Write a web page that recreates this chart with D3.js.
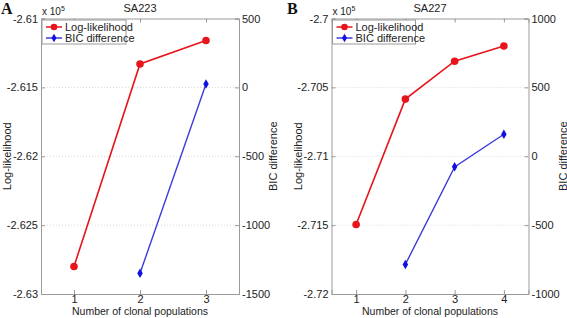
<!DOCTYPE html>
<html>
<head>
<meta charset="utf-8">
<script src="https://cdn.jsdelivr.net/npm/d3@7"></script>
<style>
  body { margin: 0; background: #fff; }
  text { font-family: "Liberation Sans", Arial, sans-serif; }
</style>
</head>
<body>
<div id="chart"></div>
<script>
// Panel A (SA223)
const popsA = [1, 2, 3];
const llA = [-262800, -261330, -261160];
const bicPopsA = [2, 3];
const bicA = [-1350, 25];
const leftTicksA = [-2.63, -2.625, -2.62, -2.615, -2.61];
const rightTicksA = [-1500, -1000, -500, 0, 500];

// Panel B (SA227)
const popsB = [1, 2, 3, 4];
const llB = [-271495, -270585, -270310, -270200];
const bicPopsB = [2, 3, 4];
const bicB = [-785, -77, 160];
const leftTicksB = [-2.72, -2.715, -2.71, -2.705, -2.7];
const rightTicksB = [-1000, -500, 0, 500, 1000];

const W = 567, H = 318;
const svg = d3.select('#chart').append('svg')
    .attr('width', W)
    .attr('height', H);

const red = '#e8141c';
const blue = '#3c3cdc';
const axisCol = '#9a9a9a';

function panel(opt) {
    const g = svg.append('g');
    const x = d3.scaleLinear()
        .domain([0.5, opt.pops.length + 0.5])
        .range([opt.left, opt.right]);
    const yL = d3.scaleLinear()
        .domain([opt.leftTicks[0], opt.leftTicks[opt.leftTicks.length - 1]])
        .range([opt.bottom, opt.top]);
    const yR = d3.scaleLinear()
        .domain([opt.rightTicks[0], opt.rightTicks[opt.rightTicks.length - 1]])
        .range([opt.bottom, opt.top]);

    // dotted grid
    g.selectAll('.grid')
        .data(opt.leftTicks.slice(1, -1))
        .join('line')
        .attr('x1', opt.left).attr('x2', opt.right)
        .attr('y1', d => yL(d)).attr('y2', d => yL(d))
        .attr('stroke', '#d8d8d8')
        .attr('stroke-dasharray', '1,2');

    // axes (MATLAB style, ticks inside, plain hyphen minus)
    g.append('g')
        .attr('transform', `translate(${opt.left},0)`)
        .call(d3.axisLeft(yL).tickValues(opt.leftTicks).tickSize(-4).tickPadding(3)
            .tickFormat(d => String(+d.toFixed(3))));
    g.append('g')
        .attr('transform', `translate(${opt.right},0)`)
        .call(d3.axisRight(yR).tickValues(opt.rightTicks).tickSize(-4).tickPadding(3)
            .tickFormat(d => String(d)));
    g.append('g')
        .attr('transform', `translate(0,${opt.bottom})`)
        .call(d3.axisBottom(x).tickValues(opt.pops).tickSize(-4).tickPadding(1)
            .tickFormat(d => String(d)));
    g.append('g')
        .attr('transform', `translate(0,${opt.top})`)
        .call(d3.axisTop(x).tickValues(opt.pops).tickSize(-4).tickFormat(''));

    g.selectAll('.domain').attr('stroke', axisCol);
    g.selectAll('.tick line').attr('stroke', axisCol);
    g.selectAll('.tick text')
        .attr('fill', '#222')
        .style('font-size', '11px')
        .style('font-family', '"Liberation Sans", Arial, sans-serif');

    // lines and markers
    const line = d3.line();
    const llPts = opt.pops.map((p, i) => [x(p), yL(opt.ll[i] / 1e5)]);
    const bicPts = opt.bicPops.map((p, i) => [x(p), yR(opt.bic[i])]);

    g.append('path')
        .attr('d', line(llPts))
        .attr('fill', 'none')
        .attr('stroke', red)
        .attr('stroke-width', 1.6);
    g.selectAll('.llDot')
        .data(llPts)
        .join('circle')
        .attr('cx', d => d[0]).attr('cy', d => d[1])
        .attr('r', 3.8)
        .attr('fill', red);

    g.append('path')
        .attr('d', line(bicPts))
        .attr('fill', 'none')
        .attr('stroke', blue)
        .attr('stroke-width', 1.4);
    g.selectAll('.bicDot')
        .data(bicPts)
        .join('path')
        .attr('d', d3.symbol().type(d3.symbolDiamond).size(26))
        .attr('transform', d => `translate(${d[0]},${d[1]})`)
        .attr('fill', '#1010e0');

    // legend
    const lx = opt.left + 1, ly = opt.top + 1.5;
    g.append('rect')
        .attr('x', lx).attr('y', ly)
        .attr('width', opt.legendW).attr('height', 24)
        .attr('fill', '#fff')
        .attr('stroke', axisCol);
    const legend = [
        {name: 'Log-likelihood', col: red, sym: 'circle'},
        {name: 'BIC difference', col: blue, sym: 'diamond'}
    ];
    legend.forEach((d, i) => {
        const yy = ly + 7 + i * 11;
        g.append('line')
            .attr('x1', lx + 4).attr('x2', lx + 20)
            .attr('y1', yy).attr('y2', yy)
            .attr('stroke', d.col).attr('stroke-width', 1.5);
        if (d.sym === 'circle') {
            g.append('circle').attr('cx', lx + 12).attr('cy', yy).attr('r', 3.3).attr('fill', d.col);
        } else {
            g.append('path')
                .attr('d', d3.symbol().type(d3.symbolDiamond).size(22))
                .attr('transform', `translate(${lx + 12},${yy})`)
                .attr('fill', '#1010e0');
        }
        g.append('text')
            .attr('x', lx + 23).attr('y', yy + 4)
            .style('font-size', '11px')
            .attr('fill', '#222')
            .text(d.name);
    });

    // title, labels
    const cx = (opt.left + opt.right) / 2;
    g.append('text')
        .attr('x', cx).attr('y', 12)
        .attr('text-anchor', 'middle')
        .style('font-size', '11px')
        .attr('fill', '#222')
        .text(opt.title);
    const mult = g.append('text')
        .attr('x', opt.left + 1).attr('y', 15)
        .style('font-size', '10px')
        .attr('fill', '#222');
    mult.append('tspan').text('x 10');
    mult.append('tspan').attr('dy', -4).style('font-size', '7px').text('5');

    g.append('text')
        .attr('x', cx).attr('y', opt.bottom + 21)
        .attr('text-anchor', 'middle')
        .style('font-size', '10.5px')
        .attr('fill', '#222')
        .text('Number of clonal populations');
    g.append('text')
        .attr('transform', `translate(${opt.left - 30},${(opt.top + opt.bottom) / 2}) rotate(-90)`)
        .attr('text-anchor', 'middle')
        .style('font-size', '11px')
        .attr('fill', '#222')
        .text('Log-likelihood');
    g.append('text')
        .attr('transform', `translate(${opt.right + 38},${(opt.top + opt.bottom) / 2}) rotate(-90)`)
        .attr('text-anchor', 'middle')
        .style('font-size', '11px')
        .attr('fill', '#222')
        .text('BIC difference');

    g.append('text')
        .attr('x', opt.letterX).attr('y', 14)
        .style('font-family', '"Liberation Serif", "Times New Roman", serif')
        .style('font-weight', 'bold')
        .style('font-size', '16px')
        .attr('fill', '#111')
        .text(opt.letter);
}

panel({
    pops: popsA, ll: llA, bicPops: bicPopsA, bic: bicA,
    leftTicks: leftTicksA, rightTicks: rightTicksA,
    left: 41, right: 239, top: 18.5, bottom: 294,
    title: 'SA223', letter: 'A', letterX: 1, legendW: 84
});
panel({
    pops: popsB, ll: llB, bicPops: bicPopsB, bic: bicB,
    leftTicks: leftTicksB, rightTicks: rightTicksB,
    left: 331.5, right: 528.5, top: 18.5, bottom: 294,
    title: 'SA227', letter: 'B', letterX: 287, legendW: 83
});
</script>
</body>
</html>
